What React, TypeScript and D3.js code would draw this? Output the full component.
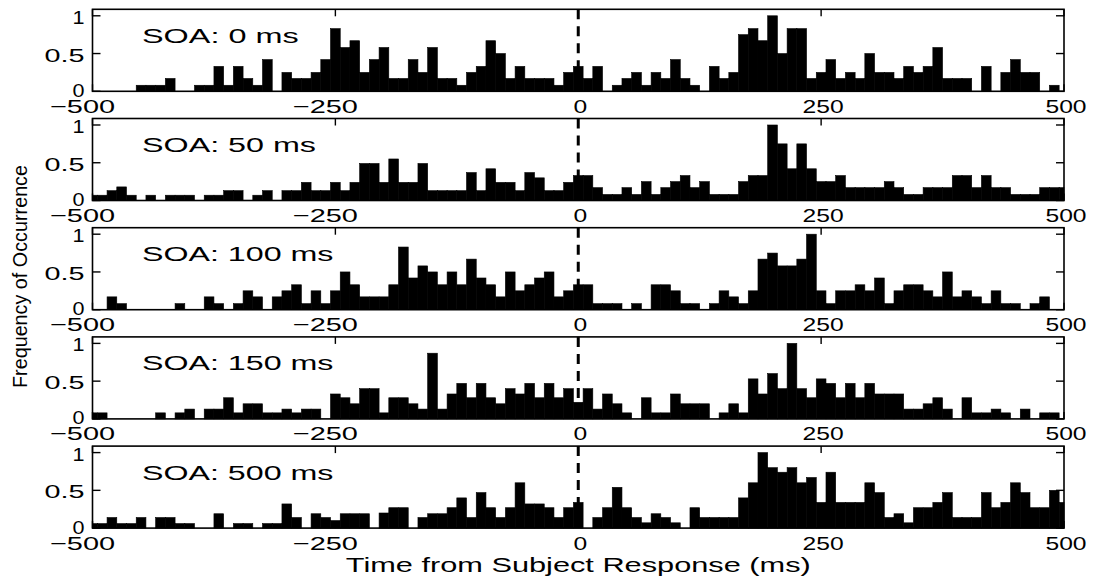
import * as d3 from 'd3';

const width = 1095;
const height = 578;

// bins are 10 ms wide, centred on -500 ... 500
const binCenters = d3.range(-500, 501, 10);
const soaLabels = ['SOA: 0 ms', 'SOA: 50 ms', 'SOA: 100 ms', 'SOA: 150 ms', 'SOA: 500 ms'];
const xTicks = [-500, -250, 0, 250, 500];
const yTicks = [0, 0.5, 1];
const xTitle = 'Time from Subject Response (ms)';
const yTitle = 'Frequency of Occurrence';

const soa0 = [
  0, 0, 0, 0, 0, .08, .08, .08, .17, 0,
  0, .08, .08, .33, .08, .33, .17, .08, .42, 0,
  .25, .17, .17, .25, .42, .83, .58, .67, .25, .42,
  .58, .17, .17, .42, .25, .58, .17, .17, .08, .25,
  .33, .67, .5, .17, .33, .17, .17, .17, .08, .25,
  .33, .17, .33, 0, .08, .17, .25, .08, .25, .17,
  .42, .17, .08, 0, .33, .17, .25, .75, .83, .67,
  1, .5, .83, .83, .17, .25, .42, .17, .25, .17,
  .5, .25, .25, .17, .33, .25, .33, .58, .17, .17,
  .17, 0, .33, 0, .25, .42, .25, .25, 0, .08,
  0,
];
const soa50 = [
  .07, .07, .13, .18, .07, 0, .07, 0, .07, .07,
  .07, 0, .07, .07, .13, .13, 0, .07, .13, 0,
  .13, .13, .24, .13, .13, .24, .13, .24, .49, .49,
  .24, .55, .24, .24, .49, .13, .13, .13, .13, .37,
  .13, .42, .24, .24, .13, .37, .3, .13, .13, .24,
  .33, .33, .17, .08, .08, .17, .08, .25, .08, .17,
  .25, .33, .17, .25, .08, .08, .08, .25, .33, .33,
  1, .75, .42, .75, .42, .25, .25, .33, .17, .17,
  .17, .17, .25, .17, .08, .08, .17, .17, .17, .33,
  .33, .17, .33, .17, .17, .08, .08, .08, .17, .17,
  .17,
];
const soa100 = [
  0, 0, .17, .08, 0, 0, 0, 0, 0, .08,
  0, 0, .17, .08, 0, .08, .25, .17, 0, .17,
  .25, .33, .08, .25, .08, .25, .5, .33, .17, .17,
  .17, .33, .83, .42, .58, .5, .33, .5, .33, .67,
  .42, .33, .17, .5, .25, .33, .42, .5, .17, .25,
  .33, .33, .08, .08, .08, 0, .08, 0, .33, .33,
  .25, .08, .08, 0, .08, .25, .17, .08, .25, .67,
  .75, .58, .58, .67, 1, .25, .08, .25, .25, .33,
  .25, .42, .08, .25, .33, .33, .25, .17, .5, .17,
  .25, .17, .08, .25, .08, .08, 0, .08, .17, 0,
  0,
];
const soa150 = [
  .08, .08, 0, 0, 0, 0, 0, .08, 0, .08,
  .13, 0, .13, .13, .28, .08, .2, .2, .08, .08,
  .13, .08, .13, .13, 0, .33, .28, .2, .4, .4,
  .08, .28, .28, .2, .13, .87, .13, .33, .47, .28,
  .47, .28, .2, .4, .33, .47, .28, .47, .28, .4,
  .22, .4, .13, .33, .2, .08, 0, .28, .08, .08,
  .33, .2, .2, .2, 0, .08, .2, .08, .53, .33,
  .6, .4, 1, .4, .28, .53, .47, .28, .47, .28,
  .47, .33, .33, .33, .13, .13, .2, .28, .13, 0,
  .28, .08, .08, .13, .08, 0, .13, 0, .08, .08,
  0,
];
const soa500 = [
  .06, .06, .14, .06, .06, .14, 0, .14, .14, .06,
  .06, 0, 0, .19, 0, .06, .06, 0, .06, .06,
  .32, .14, 0, .19, .14, .1, .19, .19, .19, 0,
  .2, .27, .27, 0, .14, .19, .19, .27, .4, .14,
  .47, .27, .14, .27, .6, .32, .32, .27, .14, .27,
  .34, 0, .14, .27, .54, .27, .14, .07, .19, .14,
  .07, 0, .27, .14, .14, .14, .14, .4, .6, 1,
  .8, .74, .8, .6, .67, .34, .74, .34, .34, .34,
  .6, .47, .14, .19, .07, .27, .27, .34, .47, .14,
  .14, .14, .47, .27, .34, .6, .47, .27, .27, .5,
  .34,
];
const series = [soa0, soa50, soa100, soa150, soa500];

const left = 92.5;
const right = 1064;
const firstTop = 9.3;
const step = 109.2;
const panelH = 82;
const font = '"Liberation Sans", Arial, Helvetica, sans-serif';

const x = d3.scaleLinear().domain([-500, 500]).range([left, right]);

const tickText = (t: number) => (t < 0 ? '\u2212' + Math.abs(t) : String(t));

const Panel = ({ values, label, top }: { values: number[]; label: string; top: number }) => {
  const bottom = top + panelH;
  const y = d3.scaleLinear().domain([0, 1.086]).range([bottom, top]);
  return (
    <g>
      {binCenters.map((c, i) => {
        const v = values[i];
        if (!v) return null;
        const x0 = x(Math.max(c - 5, -500));
        const x1 = x(Math.min(c + 5, 500));
        return (
          <rect key={i} x={x0} y={y(v)} width={x1 - x0} height={bottom - y(v)}
            fill="#000" stroke="#000" strokeWidth={0.6} />
        );
      })}
      <line x1={x(0)} x2={x(0)} y1={top} y2={bottom} stroke="#000" strokeWidth={3} strokeDasharray="10,7" />
      <rect x={left} y={top} width={right - left} height={panelH} fill="none" stroke="#000" strokeWidth={1.6} />
      {xTicks.map(t => (
        <g key={t}>
          <line x1={x(t)} x2={x(t)} y1={bottom} y2={bottom - 7} stroke="#000" strokeWidth={1.4} />
          <line x1={x(t)} x2={x(t)} y1={top} y2={top + 7} stroke="#000" strokeWidth={1.4} />
        </g>
      ))}
      {yTicks.map(t => (
        <g key={t}>
          <line x1={left} x2={left + 8} y1={y(t)} y2={y(t)} stroke="#000" strokeWidth={1.4} />
          <line x1={right} x2={right - 8} y1={y(t)} y2={y(t)} stroke="#000" strokeWidth={1.4} />
          <text x={left - 8} y={y(t) + (t === 0 ? 5.5 : 8)} textAnchor="end" fontSize={19} fontFamily={font}
            textLength={t === 0.5 ? 40 : 12} lengthAdjust="spacingAndGlyphs">{String(t)}</text>
        </g>
      ))}
      {xTicks.map(t => {
        const digits = String(Math.abs(t)).length * 13.7;
        return (
          <text key={t} x={x(t) + digits / 2 + 2} y={bottom + 21.5} textAnchor="end" fontSize={19}
            fontFamily={font} textLength={digits + (t < 0 ? 24 : 0)} lengthAdjust="spacingAndGlyphs">
            {tickText(t)}
          </text>
        );
      })}
      <text x={142} y={top + 33.5} fontSize={20} fontFamily={font}
        textLength={label.length * 17.4} lengthAdjust="spacingAndGlyphs">{label}</text>
    </g>
  );
};

const App = () => {
  return (
    <svg width={width} height={height} style={{ position: 'absolute', left: 0, top: 0, background: '#fff' }}>
      <rect width={width} height={height} fill="#fff" />
      {series.map((values, k) => (
        <Panel key={k} values={values} label={soaLabels[k]} top={firstTop + k * step} />
      ))}
      <text x={x(0)} y={572} textAnchor="middle" fontSize={21} fontFamily={font}
        textLength={465} lengthAdjust="spacingAndGlyphs">{xTitle}</text>
      <text transform="translate(26.7,276.5) rotate(-90)" textAnchor="middle" fontSize={20.5} fontFamily={font}
        textLength={223} lengthAdjust="spacingAndGlyphs">{yTitle}</text>
    </svg>
  );
};

export default App;
